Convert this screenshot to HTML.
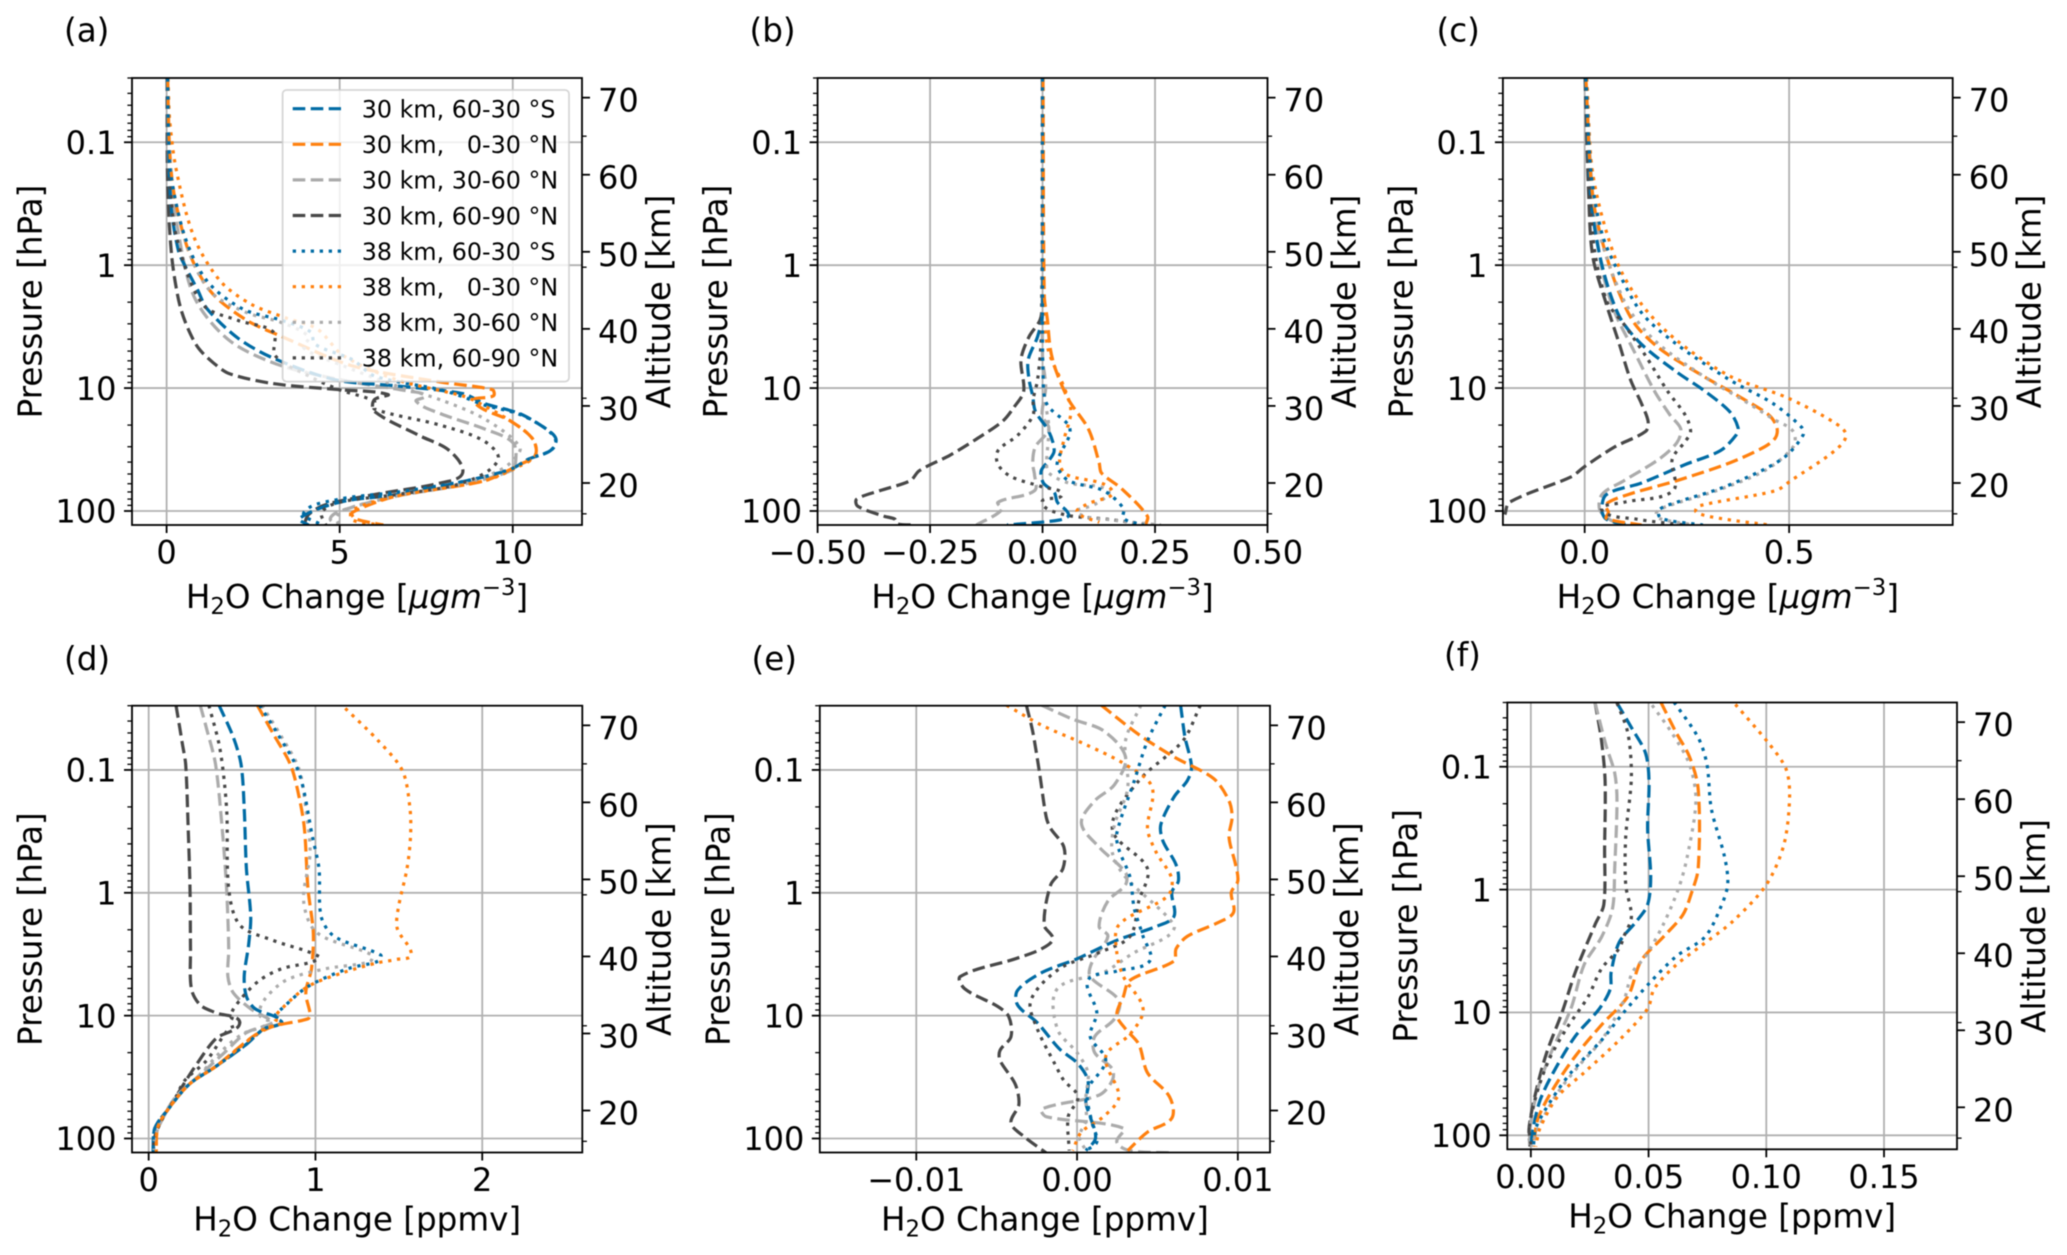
<!DOCTYPE html>
<html lang="en">
<head>
<meta charset="utf-8">
<title>H2O change profiles</title>
<style>
html,body{margin:0;padding:0;background:#fff;width:2067px;height:1255px;overflow:hidden}
#figure{display:block;filter:blur(0.45px)}
text{font-family:"DejaVu Sans","Liberation Sans",sans-serif;fill:#000;white-space:pre}
</style>
</head>
<body>
<svg id="figure" xmlns="http://www.w3.org/2000/svg" width="2067" height="1255" viewBox="0 0 2067 1255"></svg>
<script>
/* ---------- Shared axis data ---------- */
const pressureDecades=[0.1,1,10,100];
const pressureLabels=["0.1","1","10","100"];
const pressureMinorFactors=[2,3,4,5,6,7,8,9];
const pressureRange=[0.03,130];
const altitudeRange=[14.55,72.55];
const altitudeTicks=[20,30,40,50,60,70];
const altitudeMinorTicks=[16,31,48,65];
const seriesNames=["30 km, 60-30 °S","30 km,   0-30 °N","30 km, 30-60 °N","30 km, 60-90 °N","38 km, 60-30 °S","38 km,   0-30 °N","38 km, 30-60 °N","38 km, 60-90 °N"];

/* ---------- Panel (a) ---------- */
const a30SAlt=[72.5,65,60,55,50,48,45,42.6,38.8,36.2,33.4,32.6,31.6,30.3,29,27,25.7,24.2,23.1,21.8,20.3,18.5,17.5,15.4,14.55];
const a30SVal=[0.02,0.05,0.08,0.15,0.35,0.55,0.9,1.17,2.06,3.08,4.86,6.64,8.55,9.19,10.2,10.97,11.25,11.09,10.46,9.95,8.68,6.64,4.99,3.84,4.1];
const a30EAlt=[72.5,65,60,56,49.8,44.7,41.1,39,35.2,33.1,32.1,31.3,30.6,28,25.7,23.6,22.4,20.3,18.3,16.2,15.4,14.55];
const a30EVal=[0.03,0.07,0.14,0.28,0.66,1.3,2.32,3.33,5.37,7.91,9.41,9.44,8.87,9.95,10.58,10.65,10.2,9.19,6.64,5.37,5.43,6.26];
const a30GAlt=[72.5,65,60,53.9,44.2,38.5,35.2,33.1,31.9,31.3,30.6,29,27,25.2,22.6,21.6,19.8,18.3,16.5,15.4,14.55];
const a30GVal=[0.02,0.04,0.08,0.28,0.79,1.81,3.33,5.37,7.02,7.47,7.21,7.91,9.19,10.01,10.08,9.95,8.55,6.64,5.11,4.73,4.99];
const a30DAlt=[72.5,62,55,49.3,45.5,42.6,39.8,37.5,35.6,34.2,32.9,32.1,31.5,30.8,29.3,26.2,24.2,21.3,20,18.5,17.2,15.9,14.55];
const a30DVal=[0.01,0.02,0.06,0.15,0.27,0.41,0.64,0.92,1.35,1.81,3.08,4.99,6.39,6.0,6.0,7.28,8.17,8.55,7.91,6.0,4.6,4.1,3.97];
const a38SAlt=[72.5,65,60,51.9,46.2,42.6,41.1,39.6,38,36,33.9,32.1,31.2,30.1,28.9,27,25.4,24.2,23.1,21.8,20.3,18.8,17.9,16.2,14.55];
const a38SVal=[0.03,0.06,0.12,0.53,1.17,2.19,3.33,4.16,4.29,5.37,6.0,7.91,8.55,9.19,10.2,10.97,11.25,11.09,10.46,9.95,8.68,6.64,4.99,3.97,4.48];
const a38EAlt=[72.5,67,60.6,51.9,46.2,43.2,41.4,40,36.5,33.4,31.3,30.6,28,25.7,23.6,22.2,20.3,18.3,16.5,15.2,14.55];
const a38EVal=[0.04,0.09,0.28,0.79,1.55,2.44,3.46,4.35,5.11,6.64,8.55,8.93,9.95,10.58,10.65,10.2,9.19,6.64,5.37,5.37,6.26];
const a38GAlt=[72.5,65,58,49.8,44.7,42.1,40.8,39,37.5,35.2,32.6,30.8,28.3,24.7,22.9,21.6,19.8,18.3,16.5,15.4,14.55];
const a38GVal=[0.03,0.07,0.2,0.66,1.3,2.32,3.33,4.1,3.97,5.11,6.64,7.91,9.19,10.2,10.0,9.6,8.55,6.64,5.11,4.9,5.0];
const a38DAlt=[72.5,60,52,43.2,41.1,39.6,36.5,33.9,32.1,30.6,29.6,27.5,25.4,22.9,20,18.5,17.5,16.2,14.55];
const a38DVal=[0.02,0.09,0.28,1.04,2.06,3.08,3.14,4.1,4.99,6.0,6.0,7.91,9.19,9.57,8.55,6.64,4.99,4.48,4.6];

/* ---------- Panel (b) ---------- */
const b30SAlt=[72.5,42,39,36,33.4,31.3,29.3,26.7,24.2,22.9,21.6,20,18.8,17.5,15.9,15.2,14.55];
const b30SVal=[0,0,-0.011,-0.032,-0.03,-0.022,-0.016,0.014,0.026,0.014,-0.003,0.002,0.026,0.033,0.058,0.038,-0.079];
const b30EAlt=[72.5,44.2,41.1,37.5,34.9,30.8,27,22.6,21.3,19.3,15.7,14.55];
const b30EVal=[0.001,0.004,0.011,0.017,0.028,0.058,0.102,0.126,0.131,0.175,0.233,0.229];
const b30GAlt=[72.5,36.5,32.4,28.8,27,24.7,22.6,21.1,19,17.5,16.5,14.55];
const b30GVal=[0,0,0.007,-0.001,0.014,-0.016,-0.022,-0.018,-0.018,-0.099,-0.091,-0.147];
const b30DAlt=[72.5,43.2,41.1,39,36,31.9,29.8,28,25.7,23.6,21.6,20.3,19,17.9,17,15.7,15.3,14.7,14.55];
const b30DVal=[0,0,-0.006,-0.03,-0.048,-0.042,-0.064,-0.089,-0.147,-0.206,-0.274,-0.294,-0.362,-0.413,-0.411,-0.353,-0.328,-0.323,-0.284];
const b38SAlt=[72.5,41.6,34.4,30.3,27.5,26.2,23.6,22.1,20.3,19,16.7,15.4,14.55];
const b38SVal=[0,0,0.001,0.009,0.058,0.06,0.038,0.033,0.058,0.136,0.18,0.18,0.224];
const b38EAlt=[72.5,41.6,37,32.4,29.3,25.7,22.6,21.1,19,17.2,16.2,14.9];
const b38EVal=[0.001,0.004,0.014,0.048,0.063,0.048,0.038,0.053,0.155,0.097,0.077,0.126];
const b38GAlt=[72.5,36.5,31.3,27.2,22.6,21.3,20,19,17.2,16.2,15.2,14.55];
const b38GVal=[0,0,0.004,0.014,0.009,0.014,0.058,0.146,0.116,0.077,0.155,0.263];
const b38DAlt=[72.5,39,33.4,30.8,28.8,26.2,24.2,22.4,20.8,19.5,18.5,17.5,15.9,15.3,14.55];
const b38DVal=[0,-0.003,-0.011,-0.021,-0.021,-0.055,-0.099,-0.099,-0.069,-0.001,0.043,-0.001,0.048,0.146,0.233];

/* ---------- Panel (c) ---------- */
const c30SAlt=[72.5,57,48.3,41.6,38,34.4,32.1,29.3,27.2,26.2,24.2,22.4,20,18.5,16.5,15.3,14.55];
const c30SVal=[0.002,0.015,0.042,0.085,0.139,0.225,0.289,0.354,0.375,0.37,0.332,0.246,0.139,0.053,0.042,0.053,0.106];
const c30EAlt=[72.5,57,47.8,41.1,37.5,33.9,31.3,28.8,27.2,25.9,24.7,22.6,20.3,18.5,17.2,16.2,15.4,14.55];
const c30EVal=[0.003,0.02,0.063,0.117,0.182,0.289,0.375,0.451,0.47,0.467,0.44,0.354,0.225,0.106,0.051,0.058,0.053,0.139];
const c30GAlt=[72.5,57,47.8,42.1,37.5,31.9,28.8,27,25.2,23.1,20.3,18.5,16.5,15.2,14.55];
const c30GVal=[0.002,0.02,0.042,0.074,0.117,0.171,0.209,0.235,0.225,0.182,0.096,0.042,0.037,0.063,0.096];
const c30DAlt=[72.5,57,49.3,43.2,38,33.4,30.3,28,26.7,24.7,22.1,20.8,17.5,15.9];
const c30DVal=[0.001,0.01,0.02,0.053,0.085,0.112,0.139,0.155,0.149,0.074,-0.001,-0.033,-0.184,-0.195];
const c38SAlt=[72.5,60,52.4,48.3,42.1,38,33.4,30.3,27.2,26.2,23.6,21.8,19.3,17.5,16.5,15.4,14.55];
const c38SVal=[0.003,0.016,0.042,0.074,0.139,0.225,0.354,0.461,0.531,0.534,0.494,0.44,0.332,0.225,0.182,0.187,0.289];
const c38EAlt=[72.5,60,49.3,43.2,38.5,33.9,31.1,27.8,26.2,24.2,20.3,19,17,16.2,15.4,14.55];
const c38EVal=[0.005,0.02,0.074,0.139,0.225,0.354,0.494,0.612,0.639,0.612,0.504,0.467,0.278,0.273,0.332,0.451];
const c38GAlt=[72.5,54,43.7,38.5,33.9,30.8,28.3,26.7,24.7,21.6,19,17,16.2,15.4,14.55];
const c38GVal=[0.004,0.03,0.096,0.171,0.289,0.386,0.461,0.51,0.51,0.44,0.322,0.203,0.176,0.182,0.268];
const c38DAlt=[72.5,52,43.7,40.6,36.5,31.9,28.8,26.7,25.4,23.1,19,17.5,16.5,15.3,14.55];
const c38DVal=[0.002,0.02,0.053,0.096,0.149,0.203,0.246,0.259,0.246,0.214,0.216,0.096,0.042,0.128,0.246];

/* ---------- Panel (d) ---------- */
const d30SAlt=[72.6,68.5,64.9,59.2,51.4,45.2,41.5,37.4,34.8,33.2,32.2,31.4,30.6,28.6,25.7,23.4,20,17.7,14.5];
const d30SVal=[0.422,0.507,0.554,0.573,0.586,0.612,0.599,0.573,0.586,0.639,0.757,0.797,0.691,0.586,0.401,0.243,0.111,0.037,0.026];
const d30EAlt=[72.6,69,64.9,60.7,56.6,48.8,43.1,38.4,35.3,32.5,31.9,30.9,29.6,25.7,23.4,20,17.7,14.5];
const d30EVal=[0.652,0.744,0.85,0.902,0.934,0.955,0.987,0.976,0.942,0.968,0.955,0.744,0.625,0.401,0.243,0.111,0.053,0.045];
const d30GAlt=[72.6,69.5,64.9,56.6,48.8,41,37.4,35.3,33.2,31.9,31.4,30.1,27.5,24.4,21.8,19,16.6,14.5];
const d30GVal=[0.309,0.348,0.401,0.441,0.467,0.48,0.475,0.507,0.612,0.718,0.744,0.586,0.454,0.296,0.164,0.084,0.037,0.026];
const d30DAlt=[72.6,67.5,64.9,56.6,48.8,41,35.8,33.7,32.7,31.4,29.3,25.4,21.8,19,16.6,14.5];
const d30DVal=[0.164,0.203,0.222,0.237,0.248,0.251,0.256,0.309,0.401,0.546,0.401,0.269,0.164,0.084,0.037,0.026];
const d38SAlt=[72.6,69,63.8,55.5,51.4,45.2,42.6,40.2,39.4,38.4,36.1,33.2,32.2,31.4,30.6,28.6,25.7,23.4,20,17.7,14.5];
const d38SVal=[0.665,0.77,0.902,0.982,1.021,1.034,1.113,1.39,1.377,1.193,0.955,0.797,0.757,0.797,0.691,0.586,0.401,0.243,0.111,0.037,0.026];
const d38EAlt=[72.2,68,64.1,59.2,55.5,51.4,46.2,43.6,40.2,39.6,39.2,37.9,36.1,33.2,31.9,31.4,30.6,25.7,23.4,20,17.7,14.5];
const d38EVal=[1.179,1.377,1.522,1.567,1.57,1.549,1.496,1.491,1.575,1.483,1.377,1.166,0.955,0.797,0.757,0.797,0.691,0.401,0.243,0.111,0.053,0.045];
const d38GAlt=[72.6,68.5,64.3,59.2,53.5,47.2,43.1,40.2,39.3,38.4,36.9,34.3,32.4,31.4,29.9,27.5,24.4,21.8,19,16.6,14.5];
const d38GVal=[0.678,0.797,0.902,0.942,0.968,0.929,1.008,1.338,1.325,1.061,0.823,0.691,0.665,0.718,0.559,0.427,0.296,0.164,0.084,0.037,0.03];
const d38DAlt=[72.6,67,59.2,48.8,44.1,42.1,40,39.3,38.4,36.9,34.3,32.2,31.4,30.6,26.5,23.9,21.8,19,16.6,14.5];
const d38DVal=[0.361,0.427,0.467,0.48,0.546,0.744,1.021,0.982,0.797,0.665,0.546,0.493,0.546,0.48,0.348,0.216,0.164,0.084,0.037,0.026];

/* ---------- Panel (e) ---------- */
const e30SAlt=[72.6,68.5,64.6,62.8,60.7,57.1,55,51.9,49.8,48.3,45.2,43.9,42.1,39.7,37.9,35.6,33.7,31.4,28,26.2,23.9,21,19.2,16.4,14.8];
const e30SVal=[0.00644,0.00671,0.00712,0.00685,0.00603,0.00521,0.00534,0.00616,0.0063,0.00589,0.00603,0.00493,0.00247,0,-0.00219,-0.0037,-0.0037,-0.00247,-0.0011,0,0.00068,0.00055,0.00082,0.00115,0.00055];
const e30EAlt=[72.6,68.8,65.9,63.1,60.2,58.1,55.5,51.9,49.8,48.3,45.7,44.4,42.6,41,39.4,36.9,34.8,32.4,30.6,28.6,24.9,21.8,19,17.2,14.8];
const e30EVal=[0.00151,0.00384,0.00603,0.00849,0.00945,0.00964,0.00945,0.00986,0.01,0.00959,0.00973,0.00877,0.00685,0.00616,0.00603,0.00329,0.00288,0.00247,0.00301,0.00384,0.00438,0.00575,0.00589,0.00438,0.00315];
const e30GAlt=[72.6,70.8,69.3,65.9,62.3,60.2,57.3,54.2,50.9,49.3,47.2,43.9,42.6,39.4,37.4,34.3,31.9,29.6,27.5,25.4,23.9,22,20.2,19.2,17.7,15.9,14.8,14.5];
const e30GVal=[-0.00219,-0.00027,0.00164,0.00301,0.00233,0.0011,0.00027,0.00137,0.00301,0.00301,0.00192,0.00137,0.00192,0.00096,0.00082,0.0026,0.00233,0.0011,0.0011,0.00219,0.00219,0.00137,-0.00219,-0.00192,0.00288,0.00247,0.00329,0.00589];
const e30DAlt=[72.6,69,63.8,58.1,56.6,54.2,51.4,49.3,44.1,42.3,41,39.7,37.4,35.8,33.5,32.2,29.6,27.8,26.5,23.4,20.8,18.4,16.6,14.5];
const e30DVal=[-0.00315,-0.00274,-0.00233,-0.00192,-0.00164,-0.00082,-0.00088,-0.00164,-0.00205,-0.00151,-0.00219,-0.00384,-0.00726,-0.00699,-0.00493,-0.00425,-0.00411,-0.00479,-0.00479,-0.00384,-0.00362,-0.00411,-0.00329,-0.00192];
const e38SAlt=[72.6,68,62.8,56,53.9,50.3,46.2,42.6,39.4,38.1,36.9,32.7,29.6,26.5,22.9,20.8,18.2,15.9,14.8];
const e38SVal=[0.00548,0.00438,0.00356,0.00247,0.0026,0.00329,0.00356,0.00411,0.00452,0.00247,0.00068,0.00123,0.00082,0.00178,0.00068,0.00068,0.00096,0.00123,0.00055];
const e38EAlt=[72.6,70,67.5,64.9,62,56.6,53.5,50.1,47.8,44.1,40.5,37.4,33.2,29.9,27,21.8,19.2,17.2,14.8];
const e38EVal=[-0.00438,-0.00219,0.00055,0.00301,0.00466,0.00438,0.00493,0.00589,0.00562,0.0026,0.00247,0.00288,0.00411,0.00329,0.00178,0.0026,0.00164,0.00027,-0.00027];
const e38GAlt=[72.6,68,61.8,57.1,53.5,50.3,44.1,42.6,40.5,37.9,35.8,30.6,27.5,24.9,21.8,18.7,16.6,14.8];
const e38GVal=[0.00397,0.00301,0.00315,0.00233,0.00219,0.00301,0.00603,0.00562,0.00356,0.00164,-0.00123,-0.00123,0,0.00068,0.00055,0.00055,0.00014,0.00055];
const e38DAlt=[72.6,68,62.8,56.6,51.4,47.2,42.6,40.5,38.4,34.3,30.6,26,23.9,21.8,19.2,14.8];
const e38DVal=[0.00767,0.00658,0.00384,0.00219,0.00438,0.00384,0.00329,0.00137,-0.0011,-0.00288,-0.00247,-0.00137,-0.00082,0.00005,-0.00055,-0.00049];

/* ---------- Panel (f) ---------- */
const f30SAlt=[72.5,69.1,66,62.4,56.2,49.9,46.3,44.2,41.4,37.5,35.4,32.8,29.2,24.5,20.9,16.7,14.9];
const f30SVal=[0.0366,0.0431,0.0487,0.0502,0.0496,0.0509,0.0496,0.045,0.0375,0.0341,0.0338,0.0291,0.0188,0.0095,0.0039,0.0006,0.0002];
const f30EAlt=[72.6,68.6,65.5,61.3,51,47.9,45,42.1,39,34.4,30.7,26.6,22.4,18.5,14.9];
const f30EVal=[0.0552,0.0618,0.0674,0.0711,0.0711,0.0683,0.0646,0.0562,0.0468,0.0412,0.03,0.0188,0.0095,0.003,0.0011];
const f30GAlt=[72.6,67,63.4,59.8,51,45.8,42.1,38.5,32.8,27.1,22.4,17.3,14.9];
const f30GVal=[0.0272,0.0319,0.0356,0.0366,0.0356,0.0347,0.03,0.0226,0.017,0.0086,0.003,-0.0004,-0.0004];
const f30DAlt=[72.6,67.6,62.4,53.6,46.3,43.7,37.5,32.3,27.1,21.9,17.3,14.9];
const f30DVal=[0.02724,0.03,0.03153,0.03134,0.03097,0.02724,0.01884,0.01325,0.00672,0.00205,-0.00075,-0.00037];
const f38SAlt=[72.6,68,64.5,58.7,52.5,48.9,45.8,42.1,39.6,36.2,32.3,28.7,24.5,20.9,17.3,14.9];
const f38SVal=[0.0608,0.0711,0.0748,0.0767,0.0823,0.0836,0.0804,0.0739,0.0618,0.0506,0.0394,0.03,0.017,0.0086,0.0021,0.0011];
const f38EAlt=[72.3,67.3,63.9,60.3,54.1,48.9,44.2,41.1,38.5,35.4,32.8,28.7,24.5,21.4,17.3,14.9];
const f38EVal=[0.0869,0.1009,0.1084,0.1099,0.1075,0.1,0.086,0.0729,0.0618,0.0524,0.0496,0.0375,0.0226,0.0114,0.0039,0.0021];
const f38GAlt=[72.2,68.6,64.5,59.8,52.5,48.4,43.7,39.6,37.5,33.8,28.7,25.5,21.9,17.8,14.9];
const f38GVal=[0.0515,0.0599,0.0674,0.0701,0.0664,0.0627,0.0562,0.0487,0.0431,0.0394,0.03,0.0207,0.0114,0.0039,0.0002];
const f38DAlt=[72.5,68.6,62.9,55.1,48.9,44.7,42.1,40.6,38,34.4,30.2,26.1,21.4,17.3,14.9];
const f38DVal=[0.0366,0.0412,0.0427,0.0403,0.0403,0.0427,0.0394,0.0375,0.03,0.0244,0.0151,0.0076,0.0021,-0.0007,0.0002];

/* ---------- X-axis data per panel ---------- */
const aTicks=[0,5,10];      const aTickLabels=["0","5","10"];
const bTicks=[-0.5,-0.25,0,0.25,0.5]; const bTickLabels=["−0.50","−0.25","0.00","0.25","0.50"];
const cTicks=[0,0.5];       const cTickLabels=["0.0","0.5"];
const dTicks=[0,1,2];       const dTickLabels=["0","1","2"];
const eTicks=[-0.01,0,0.01];const eTickLabels=["−0.01","0.00","0.01"];
const fTicks=[0,0.05,0.1,0.15]; const fTickLabels=["0.00","0.05","0.10","0.15"];

/* ---------- Presentation (not data) ---------- */
const colours=["#006BA4","#FF800E","#ABABAB","#484848"];
const dashPattern="12.6 5.4";
const dotPattern="3.3 5.7";
const drawOrder=[3,2,0,1,7,6,5,4];
const SVGNS="http://www.w3.org/2000/svg";
const fig=document.getElementById("figure");

const panelDefs=[
 {id:"a",left:132,right:582,top:78,bottom:525,xlim:[-1,12],ticks:aTicks,tickLabels:aTickLabels,unit:"mass",labelX:64,labelY:41.5,legend:true,
  series:[[a30SAlt,a30SVal],[a30EAlt,a30EVal],[a30GAlt,a30GVal],[a30DAlt,a30DVal],[a38SAlt,a38SVal],[a38EAlt,a38EVal],[a38GAlt,a38GVal],[a38DAlt,a38DVal]]},
 {id:"b",left:817.6,right:1267.5,top:78,bottom:525,xlim:[-0.5,0.5],ticks:bTicks,tickLabels:bTickLabels,unit:"mass",labelX:749.5,labelY:41.5,
  series:[[b30SAlt,b30SVal],[b30EAlt,b30EVal],[b30GAlt,b30GVal],[b30DAlt,b30DVal],[b38SAlt,b38SVal],[b38EAlt,b38EVal],[b38GAlt,b38GVal],[b38DAlt,b38DVal]]},
 {id:"c",left:1502.9,right:1952.7,top:78,bottom:525,xlim:[-0.2,0.9],ticks:cTicks,tickLabels:cTickLabels,unit:"mass",labelX:1436.5,labelY:41.5,
  series:[[c30SAlt,c30SVal],[c30EAlt,c30EVal],[c30GAlt,c30GVal],[c30DAlt,c30DVal],[c38SAlt,c38SVal],[c38EAlt,c38EVal],[c38GAlt,c38GVal],[c38DAlt,c38DVal]]},
 {id:"d",left:132,right:582.3,top:705.7,bottom:1152.5,xlim:[-0.1,2.6],ticks:dTicks,tickLabels:dTickLabels,unit:"ppmv",labelX:64,labelY:670,
  series:[[d30SAlt,d30SVal],[d30EAlt,d30EVal],[d30GAlt,d30GVal],[d30DAlt,d30DVal],[d38SAlt,d38SVal],[d38EAlt,d38EVal],[d38GAlt,d38GVal],[d38DAlt,d38DVal]]},
 {id:"e",left:819.8,right:1270,top:705.7,bottom:1152.5,xlim:[-0.016,0.012],ticks:eTicks,tickLabels:eTickLabels,unit:"ppmv",labelX:751.5,labelY:670,
  series:[[e30SAlt,e30SVal],[e30EAlt,e30EVal],[e30GAlt,e30GVal],[e30DAlt,e30DVal],[e38SAlt,e38SVal],[e38EAlt,e38EVal],[e38GAlt,e38GVal],[e38DAlt,e38DVal]]},
 {id:"f",left:1507.3,right:1957,top:702.5,bottom:1149.3,xlim:[-0.01,0.181],ticks:fTicks,tickLabels:fTickLabels,unit:"ppmv",labelX:1444,labelY:666,
  series:[[f30SAlt,f30SVal],[f30EAlt,f30EVal],[f30GAlt,f30GVal],[f30DAlt,f30DVal],[f38SAlt,f38SVal],[f38EAlt,f38EVal],[f38GAlt,f38GVal],[f38DAlt,f38DVal]]}
];

function make(parent,tag,attrs){
  const n=document.createElementNS(SVGNS,tag);
  for(const k in attrs){n.setAttribute(k,attrs[k]);}
  parent.appendChild(n);
  return n;
}
function hLine(parent,x1,x2,y,stroke,width){
  return make(parent,"line",{x1:x1,x2:x2,y1:y,y2:y,stroke:stroke,"stroke-width":width});
}
function vLine(parent,x,y1,y2,stroke,width){
  return make(parent,"line",{x1:x,x2:x,y1:y1,y2:y2,stroke:stroke,"stroke-width":width});
}
function label(parent,x,y,str,size,anchor,rotate){
  const attrs={x:x,y:y,"font-size":size,"text-anchor":anchor||"start"};
  if(rotate){attrs.transform="rotate(-90 "+x+" "+y+")";}
  const t=make(parent,"text",attrs);
  t.setAttribute("xml:space","preserve");
  if(str){t.textContent=str;}
  return t;
}
function span(parent,str,size,dy,italic){
  const attrs={"font-size":size};
  if(dy){attrs.dy=dy;}
  if(italic){attrs["font-style"]="italic";}
  const s=make(parent,"tspan",attrs);
  s.textContent=str;
  return s;
}
/* Rounded path through the plotted points, so profiles read as curves */
function smoothPath(pts){
  let d="M"+pts[0][0].toFixed(1)+" "+pts[0][1].toFixed(1);
  const tangent=function(i){
    const a=pts[Math.max(i-1,0)], b=pts[Math.min(i+1,pts.length-1)];
    const dx=b[0]-a[0], dy=b[1]-a[1], n=Math.hypot(dx,dy)||1;
    return [dx/n,dy/n];
  };
  for(let i=0;i<pts.length-1;i++){
    const p0=pts[i], p1=pts[i+1];
    const len=Math.hypot(p1[0]-p0[0],p1[1]-p0[1]);
    const t0=tangent(i), t1=tangent(i+1), k=len*0.3;
    d+="C"+(p0[0]+t0[0]*k).toFixed(1)+" "+(p0[1]+t0[1]*k).toFixed(1)+" "+(p1[0]-t1[0]*k).toFixed(1)+" "+(p1[1]-t1[1]*k).toFixed(1)+" "+p1[0].toFixed(1)+" "+p1[1].toFixed(1);
  }
  return d;
}

panelDefs.forEach(function(p){
  const w=p.right-p.left, h=p.bottom-p.top;
  const xScale=function(v){return p.left+(v-p.xlim[0])/(p.xlim[1]-p.xlim[0])*w;};
  const yPressure=function(v){
    const lo=Math.log10(pressureRange[0]),hi=Math.log10(pressureRange[1]);
    return p.top+(Math.log10(v)-lo)/(hi-lo)*h;
  };
  const yAltitude=function(a){
    return p.bottom-(a-altitudeRange[0])/(altitudeRange[1]-altitudeRange[0])*h;
  };

  const g=make(fig,"g",{});
  
  

  const clip=make(g,"clipPath",{id:"clip-"+p.id});
  make(clip,"rect",{x:p.left,y:p.top,width:w,height:h});

  const grid=make(g,"g",{});
  
  
  p.ticks.forEach(function(t){
    vLine(grid,xScale(t),p.top,p.bottom,"#b0b0b0",1.8);
  });
  pressureDecades.forEach(function(d){
    hLine(grid,p.left,p.right,yPressure(d),"#b0b0b0",1.8);
  });

  const lines=make(g,"g",{"clip-path":"url(#clip-"+p.id+")"});
  
  
  drawOrder.forEach(function(i){
    const alt=p.series[i][0], val=p.series[i][1];
    const pts=alt.map(function(a,k){return [xScale(val[k]),yAltitude(a)];});
    const line=make(lines,"path",{d:smoothPath(pts),fill:"none",stroke:colours[i%4],"stroke-width":3.2,"stroke-dasharray":i<4?dashPattern:dotPattern,"stroke-linejoin":"round"});
    
    
  });

  /* x axis */
  const xAxis=make(g,"g",{});
  
  
  p.ticks.forEach(function(t,i){
    vLine(xAxis,xScale(t),p.bottom,p.bottom+8,"#000",1.8);
    const tl=label(xAxis,xScale(t),p.bottom+38.5,p.tickLabels[i],32,"middle");
    
    
  });
  const mid=(p.left+p.right)/2;
  const xt=label(xAxis,mid,p.bottom+(p.unit==="mass"?83:78),"",32.6,"middle");
  
  
  span(xt,"H",32.6);
  span(xt,"2",22.8,6);
  span(xt,"O Change [",32.6,-6);
  if(p.unit==="mass"){
    span(xt,"μgm",32.6,0,true);
    span(xt,"−3",22.8,-13);
    span(xt,"]",32.6,13);
  }else{
    span(xt,"ppmv]",32.6);
  }

  /* left axis */
  const yAxis=make(g,"g",{});
  
  
  pressureDecades.forEach(function(d,i){
    const y=yPressure(d);
    hLine(yAxis,p.left-8,p.left,y,"#000",1.8);
    const tl=label(yAxis,p.left-15.5,y+11.7,pressureLabels[i],32,"end");
    
    
  });
  [0.01,0.1,1,10,100].forEach(function(d){
    pressureMinorFactors.forEach(function(m){
      const v=d*m;
      if(v>=pressureRange[0]&&v<=pressureRange[1]){
        hLine(yAxis,p.left-4.6,p.left,yPressure(v),"#000",1.3);
      }
    });
  });
  const yt=label(yAxis,p.left-90.5,(p.top+p.bottom)/2,"Pressure [hPa]",32.6,"middle",true);
  
  

  /* right axis */
  const altAxis=make(g,"g",{});
  
  
  altitudeTicks.forEach(function(a){
    const y=yAltitude(a);
    hLine(altAxis,p.right,p.right+8,y,"#000",1.8);
    const tl=label(altAxis,p.right+16,y+14,String(a),32,"start");
    
    
  });
  altitudeMinorTicks.forEach(function(a){
    hLine(altAxis,p.right,p.right+4.6,yAltitude(a),"#000",1.3);
  });
  const at=label(altAxis,p.right+88,(p.top+p.bottom)/2,"Altitude [km]",32.6,"middle",true);
  
  

  /* spines */
  const frame=make(g,"rect",{x:p.left,y:p.top,width:w,height:h,fill:"none",stroke:"#000","stroke-width":1.8});
  
  

  /* panel tag */
  const tag=label(g,p.labelX,p.labelY,"("+p.id+")",32.6,"start");
  
  

  /* legend */
  if(p.legend){
    const lg=make(g,"g",{});
    
    
    const box=make(lg,"rect",{x:282.6,y:90,width:286.4,height:291.6,rx:4,ry:4,fill:"#fff","fill-opacity":0.8,stroke:"#ccc","stroke-opacity":0.8,"stroke-width":1.8});
    
    
    seriesNames.forEach(function(name,i){
      const y=108.7+i*35.6;
      const entry=make(lg,"g",{});
      
      
      const key=make(entry,"line",{x1:292.7,x2:341,y1:y,y2:y,stroke:colours[i%4],"stroke-width":3.2,"stroke-dasharray":i<4?dashPattern:dotPattern});
      
      
      const lt=label(entry,361.8,y+8.8,name,23.8,"start");
      
      
    });
  }
});
</script>
</body>
</html>
